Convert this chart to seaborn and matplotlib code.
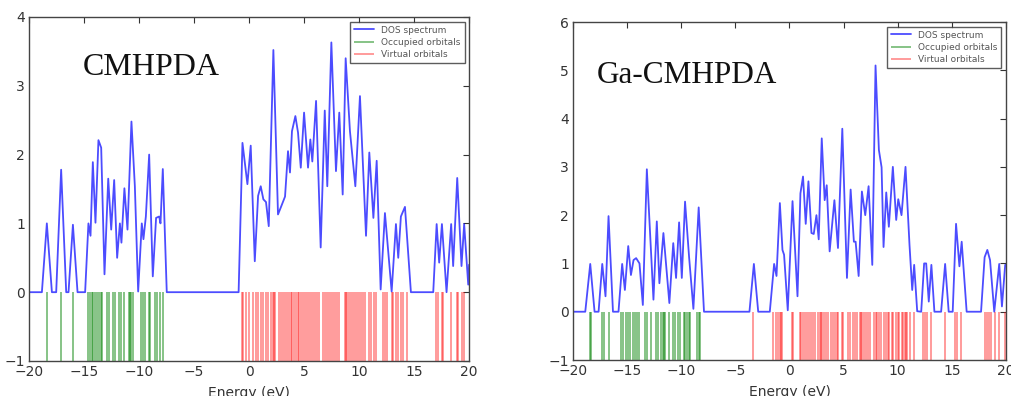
import matplotlib
matplotlib.use("Agg")
import matplotlib.pyplot as plt
import seaborn as sns
import pandas as pd

# DOS curve: (energy eV, density)
cm_dos = [(-20, 0), (-18.83, 0), (-18.38, 1.0), (-17.92, 0), (-17.53, 0), (-17.08, 1.78),
          (-16.62, 0), (-16.41, 0), (-16.01, 0.98), (-15.59, 0), (-14.9, 0), (-14.6, 1.0),
          (-14.41, 0.82), (-14.2, 1.89), (-13.96, 1.01), (-13.69, 2.21), (-13.44, 2.10),
          (-13.14, 0.26), (-12.8, 1.65), (-12.53, 0.91), (-12.26, 1.63), (-11.99, 0.5),
          (-11.74, 1.0), (-11.6, 0.72), (-11.33, 1.51), (-11.05, 0.91), (-10.69, 2.48),
          (-10.38, 1.54), (-10.08, 0.01), (-9.75, 1.0), (-9.6, 0.77), (-9.38, 1.1),
          (-9.08, 2.0), (-8.75, 0.23), (-8.45, 1.08), (-8.17, 1.1), (-8.05, 1.0),
          (-7.84, 1.79), (-7.48, 0), (-0.95, 0), (-0.6, 2.17), (-0.15, 1.57), (0.15, 2.13),
          (0.52, 0.45), (0.82, 1.4), (1.06, 1.54), (1.3, 1.35), (1.54, 1.31), (1.79, 0.96),
          (2.21, 3.52), (2.63, 1.13), (2.88, 1.23), (3.27, 1.39), (3.54, 2.05), (3.72, 1.74),
          (3.9, 2.34), (4.21, 2.56), (4.45, 2.32), (4.7, 1.81), (5.0, 2.61), (5.36, 1.81),
          (5.57, 2.22), (5.75, 1.9), (6.09, 2.78), (6.51, 0.65), (6.88, 2.64), (7.11, 1.54),
          (7.48, 3.63), (7.9, 1.76), (8.2, 2.61), (8.51, 1.42), (8.78, 3.4), (9.17, 2.34),
          (9.66, 1.54), (10.08, 2.85), (10.63, 0.82), (10.93, 2.03), (11.3, 1.08),
          (11.6, 1.91), (11.96, 0.04), (12.35, 1.15), (12.96, 0.01), (13.35, 0.99),
          (13.56, 0.5), (13.8, 1.1), (14.17, 1.24), (14.71, 0), (16.74, 0), (17.05, 0.99),
          (17.28, 0.43), (17.53, 0.99), (17.95, 0), (18.37, 0.99), (18.55, 0.38),
          (18.92, 1.66), (19.31, 0.38), (19.55, 0.99), (19.92, 0.11), (20, 0.4)]

ga_dos = [(-20, 0), (-18.87, 0), (-18.41, 0.99), (-18.01, 0), (-17.64, 0), (-17.3, 0.99),
          (-17.0, 0.32), (-16.72, 1.98), (-16.31, 0), (-15.8, 0), (-15.46, 0.99),
          (-15.21, 0.45), (-14.9, 1.36), (-14.65, 0.76), (-14.41, 1.07), (-14.17, 1.11),
          (-13.86, 1.0), (-13.55, 0.14), (-13.18, 2.95), (-12.57, 0.25), (-12.26, 1.87),
          (-12.02, 0.59), (-11.65, 1.63), (-11.1, 0.18), (-10.74, 1.42), (-10.48, 0.7),
          (-10.2, 1.85), (-9.95, 0.7), (-9.65, 2.28), (-9.28, 1.14), (-8.88, 0.06),
          (-8.39, 2.16), (-7.9, 0), (-3.7, 0), (-3.29, 0.99), (-2.89, 0), (-1.82, 0),
          (-1.42, 0.99), (-1.2, 0.74), (-0.89, 2.25), (-0.65, 1.28), (-0.5, 1.18),
          (-0.16, 0.03), (0.28, 2.29), (0.74, 0.32), (1.01, 2.45), (1.25, 2.8), (1.5, 1.82),
          (1.75, 2.7), (2.03, 1.63), (2.24, 1.61), (2.49, 2.0), (2.7, 1.5), (2.98, 3.59),
          (3.25, 2.31), (3.44, 2.62), (3.71, 1.25), (4.15, 2.31), (4.48, 1.32), (4.88, 3.79),
          (5.31, 0.7), (5.65, 2.53), (5.95, 1.45), (6.11, 1.45), (6.39, 0.74), (6.69, 2.49),
          (7.0, 2.0), (7.31, 2.6), (7.65, 0.97), (7.95, 5.1), (8.26, 3.35), (8.51, 2.99),
          (8.69, 1.34), (8.94, 2.47), (9.18, 1.76), (9.55, 3.0), (9.86, 1.9), (10.05, 2.33),
          (10.35, 2.0), (10.72, 3.0), (11.09, 1.38), (11.34, 0.45), (11.52, 0.97),
          (11.8, 0.01), (12.17, 0), (12.44, 1.0), (12.63, 1.0), (12.87, 0.21), (13.11, 0.97),
          (13.39, 0), (14.01, 0), (14.38, 0.99), (14.71, 0), (15.08, 0), (15.39, 1.82),
          (15.7, 0.94), (15.91, 1.45), (16.37, 0), (17.7, 0), (18.03, 1.13), (18.28, 1.28),
          (18.53, 1.07), (18.92, 0), (19.38, 0.99), (19.63, 0.11), (19.93, 0.97), (20, 0.97)]

# orbital energies (eV)
cm_occupied = [-18.38, -17.11, -16.01, -14.68, -14.5, -14.26, -14.14, -13.96, -13.78, -13.6,
               -13.48, -13.35, -12.87, -12.75, -12.39, -12.2, -11.78, -11.6, -11.35, -10.93,
               -10.81, -10.69, -10.57, -9.78, -9.6, -9.42, -9.12, -9.0, -8.57, -8.39, -8.14,
               -7.78]
cm_virtual = [-0.67, -0.51, -0.27, -0.03, 0.39, 0.64, 0.85, 1.06, 1.3, 1.55, 1.73, 2.03, 2.15,
              2.27, 2.39, 2.7, 2.88, 3.06, 3.27, 3.48, 3.6, 3.78, 3.94, 4.09, 4.27, 4.42, 4.57,
              4.75, 4.93, 5.12, 5.3, 5.48, 5.66, 5.84, 6.02, 6.2, 6.39, 6.75, 6.87, 7.05, 7.3,
              7.48, 7.66, 7.84, 8.02, 8.21, 8.69, 8.81, 8.93, 9.05, 9.23, 9.42, 9.6, 9.78,
              9.96, 10.14, 10.39, 10.51, 10.87, 11.11, 11.35, 11.53, 12.2, 12.32, 12.5, 12.96,
              13.11, 13.35, 13.56, 13.77, 14.02, 14.32, 16.98, 17.16, 17.53, 17.65, 18.38,
              18.86, 18.98, 19.35, 19.56]
ga_occupied = [-18.47, -18.34, -17.3, -17.18, -16.72, -15.58, -15.39, -15.15, -14.9, -14.72,
               -14.47, -14.29, -14.1, -13.86, -13.31, -13.18, -12.81, -12.32, -12.14, -11.83,
               -11.7, -11.58, -11.47, -11.1, -10.78, -10.6, -10.29, -10.11, -9.74, -9.62,
               -9.49, -9.31, -9.19, -8.52, -8.39, -8.27]
ga_virtual = [-3.35, -1.51, -1.26, -1.02, -0.89, -0.77, -0.65, 0.21, 0.33, 0.95, 1.1, 1.25,
              1.44, 1.62, 1.81, 1.99, 2.18, 2.36, 2.61, 2.79, 2.91, 3.04, 3.16, 3.34, 3.53,
              3.84, 4.02, 4.21, 4.39, 4.51, 4.82, 4.94, 5.43, 5.62, 5.86, 6.05, 6.23, 6.48,
              6.6, 6.72, 6.85, 7.03, 7.28, 7.46, 7.83, 7.95, 8.07, 8.26, 8.5, 8.75, 8.94,
              9.06, 9.24, 9.43, 9.61, 9.8, 9.98, 10.16, 10.35, 10.53, 10.66, 10.78, 10.9,
              11.09, 11.52, 12.32, 12.5, 12.69, 13.11, 14.34, 15.32, 15.45, 15.88, 18.03,
              18.21, 18.4, 18.58, 18.95, 19.38, 19.93]

sns.set_style("white")
plt.rcParams['font.family'] = ['DejaVu Sans']

fig = plt.figure(figsize=(10.11, 3.96), dpi=100)
ax1 = fig.add_axes([0.0287, 0.0884, 0.4353, 0.8687])
ax2 = fig.add_axes([0.5668, 0.0909, 0.4282, 0.8535])

panels = [
    (ax1, cm_dos, cm_occupied, cm_virtual, 4, "CMHPDA", (-15.1, 3.26), 23),
    (ax2, ga_dos, ga_occupied, ga_virtual, 6, "Ga-CMHPDA", (-17.8, 4.9), 22.5),
]

for ax, dos, occ, virt, ymax, name, pos, fs in panels:
    df = pd.DataFrame(dos, columns=["Energy", "DOS"])
    sns.lineplot(data=df, x="Energy", y="DOS", ax=ax, color="blue", alpha=0.7,
                 linewidth=1.3, label="DOS spectrum", sort=False)
    ax.vlines(occ, -1, 0, colors="green", alpha=0.6, linewidth=1.1,
              label="Occupied orbitals")
    ax.vlines(virt, -1, 0, colors="red", alpha=0.5, linewidth=1.1,
              label="Virtual orbitals")
    ax.set_xlim(-20, 20)
    ax.set_ylim(-1, ymax)
    ax.set_xticks(range(-20, 21, 5))
    ax.set_yticks(range(-1, ymax + 1))
    ax.set_xticklabels([str(t).replace("-", "\u2212") for t in range(-20, 21, 5)])
    ax.set_yticklabels([str(t).replace("-", "\u2212") for t in range(-1, ymax + 1)])
    ax.set_xlabel("Energy (eV)", fontsize=10, color="#333333", labelpad=5)
    ax.set_ylabel("")
    ax.tick_params(direction="in", top=True, right=True, length=4, width=0.8,
                   labelsize=10, colors="#333333", pad=3)
    for s in ax.spines.values():
        s.set_color("#444444")
        s.set_linewidth(1.0)
    ax.text(pos[0], pos[1], name, fontsize=fs, family=["Liberation Serif"],
            color="#111111", va="center", ha="left")
    leg = ax.legend(loc="upper right", fontsize=6.5, frameon=True, fancybox=False,
                    handlelength=2.2, borderaxespad=0.5, labelspacing=0.35,
                    borderpad=0.45)
    leg.get_frame().set_edgecolor("#333333")
    leg.get_frame().set_linewidth(1.0)
    for t in leg.get_texts():
        t.set_color("#555555")

fig.savefig("out.png", dpi=100)
